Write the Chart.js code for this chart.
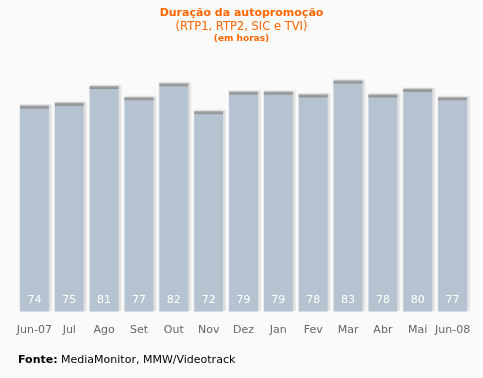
<!DOCTYPE html>
<html>
<head>
<meta charset="utf-8">
<script src="https://cdn.jsdelivr.net/npm/chart.js@4"></script>
<style>
  html, body { margin: 0; padding: 0; background: #fafafa; }
  #wrap { width: 483px; height: 378px; position: relative; }
</style>
</head>
<body>
<div id="wrap"><canvas id="chart" width="483" height="378"></canvas></div>
<script>
const months = ['Jun-07', 'Jul', 'Ago', 'Set', 'Out', 'Nov', 'Dez', 'Jan', 'Fev', 'Mar', 'Abr', 'Mai', 'Jun-08'];
const hours = [74, 75, 81, 77, 82, 72, 79, 79, 78, 83, 78, 80, 77];

const titleLine = 'Duração da autopromoção';
const subtitleLine = '(RTP1, RTP2, SIC e TVI)';
const unitLine = '(em horas)';
const sourceLabel = 'Fonte:';
const sourceText = ' MediaMonitor, MMW/Videotrack';

const orange = '#ff6600';
const barColor = '#b5c3d1';

// shadow behind each bar + grey cap on top + value at the bottom
const barDecor = {
  id: 'barDecor',
  beforeDatasetsDraw(chart) {
    const ctx = chart.ctx;
    const meta = chart.getDatasetMeta(0);
    ctx.save();
    meta.data.forEach((bar) => {
      const left = bar.x - bar.width / 2;
      ctx.fillStyle = 'rgba(0,0,0,0.07)';
      ctx.fillRect(left + 1, bar.y - 1, bar.width + 2, bar.base - bar.y);
      ctx.fillStyle = 'rgba(0,0,0,0.04)';
      ctx.fillRect(left - 1, bar.y - 2, bar.width + 3, bar.base - bar.y + 1);
    });
    ctx.restore();
  },
  afterDatasetsDraw(chart) {
    const ctx = chart.ctx;
    const meta = chart.getDatasetMeta(0);
    ctx.save();
    meta.data.forEach((bar, i) => {
      const left = bar.x - bar.width / 2;
      const g = ctx.createLinearGradient(0, bar.y, 0, bar.y + 3);
      g.addColorStop(0, '#a8a8a8');
      g.addColorStop(1, '#8e8e8e');
      ctx.fillStyle = g;
      ctx.fillRect(left, bar.y, bar.width, 3);
      ctx.fillStyle = '#ffffff';
      ctx.font = '11px "DejaVu Sans"';
      ctx.textAlign = 'center';
      ctx.textBaseline = 'middle';
      ctx.fillText(String(hours[i]), bar.x, bar.base - 12);
    });
    ctx.restore();
  }
};

const headerFooter = {
  id: 'headerFooter',
  afterDraw(chart) {
    const ctx = chart.ctx;
    const cx = chart.width / 2;
    ctx.save();
    ctx.textAlign = 'center';
    ctx.textBaseline = 'middle';
    ctx.fillStyle = orange;
    ctx.font = 'bold 11px "DejaVu Sans"';
    ctx.fillText(titleLine, cx, 13);
    ctx.font = '11.5px "DejaVu Sans"';
    ctx.fillText(subtitleLine, cx, 27);
    ctx.font = 'bold 9px "DejaVu Sans"';
    ctx.fillText(unitLine, cx, 39);

    ctx.textAlign = 'left';
    ctx.fillStyle = '#000000';
    ctx.font = 'bold 11px "DejaVu Sans"';
    ctx.fillText(sourceLabel, 18, 360);
    const w = ctx.measureText(sourceLabel).width;
    ctx.font = '11px "DejaVu Sans"';
    ctx.fillText(sourceText, 18 + w, 360);
    ctx.restore();
  }
};

new Chart(document.getElementById('chart'), {
  type: 'bar',
  data: {
    labels: months,
    datasets: [{
      data: hours,
      backgroundColor: barColor,
      borderWidth: 0,
      barPercentage: 0.83,
      categoryPercentage: 1
    }]
  },
  options: {
    responsive: false,
    animation: false,
    layout: { padding: { top: 61, left: 17, right: 13, bottom: 37 } },
    plugins: { legend: { display: false }, tooltip: { enabled: false } },
    scales: {
      x: {
        grid: { display: false },
        border: { display: false },
        ticks: {
          color: '#666666',
          font: { family: 'DejaVu Sans', size: 11 },
          padding: 4,
          autoSkip: false,
          maxRotation: 0
        }
      },
      y: { display: false, min: 0, max: 90 }
    }
  },
  plugins: [barDecor, headerFooter]
});
</script>
</body>
</html>
